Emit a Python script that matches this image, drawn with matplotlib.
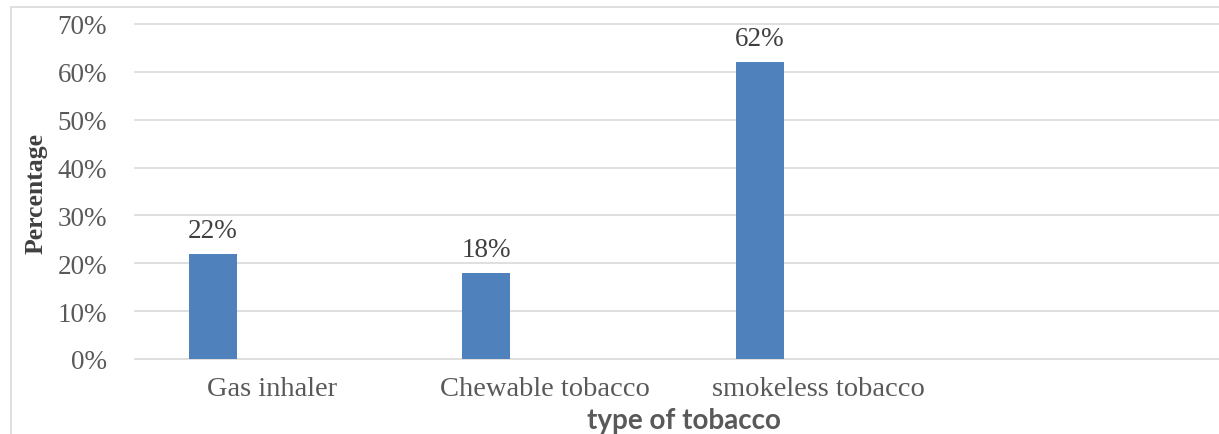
import matplotlib.pyplot as plt
from matplotlib.patches import Rectangle
from matplotlib.ticker import PercentFormatter

categories = ["Gas inhaler", "Chewable tobacco", "smokeless tobacco", ""]
values = [22, 18, 62]
y_ticks = [0, 10, 20, 30, 40, 50, 60, 70]

bar_color = "#4F81BD"
grid_color = "#D9D9D9"
text_color = "#595959"
dark_text = "#404040"

fig = plt.figure(figsize=(12.19, 4.35), dpi=100)
ax = fig.add_axes([135 / 1219, 75 / 435, 1094 / 1219, 335 / 435])

# chart frame (right and bottom edges fall outside the picture)
fig.patches.append(Rectangle((11 / 1219, -0.1), 1.2, 1 - 8 / 435 + 0.1,
                             transform=fig.transFigure, fill=False,
                             edgecolor=grid_color, linewidth=1.2))

x = list(range(len(values)))
offset = -0.216
bars = ax.bar([i + offset for i in x], values, width=0.1755, color=bar_color, zorder=3)

for rect, v in zip(bars, values):
    ax.annotate(f"{v}%", (rect.get_x() + rect.get_width() / 2, v),
                xytext=(0, 8), textcoords="offset points", ha="center", va="bottom",
                fontsize=19.5, family="Liberation Serif", color=dark_text)

ax.set_xlim(-0.5, len(categories) - 0.5)
ax.set_ylim(0, 70)
ax.set_yticks(y_ticks)
ax.yaxis.set_major_formatter(PercentFormatter(decimals=0))
ax.set_xticks(range(len(categories)))
ax.set_xticklabels(categories)

ax.grid(axis="y", color=grid_color, linewidth=1.2, zorder=0)
for gl in ax.get_ygridlines():
    gl.set_clip_on(False)
ax.set_axisbelow(True)
for s in ax.spines.values():
    s.set_visible(False)
ax.tick_params(axis="both", length=0)
ax.tick_params(axis="y", pad=20, labelsize=19.5, labelcolor=text_color)
ax.tick_params(axis="x", pad=12, labelsize=20.5, labelcolor=text_color)
for lab in ax.get_xticklabels() + ax.get_yticklabels():
    lab.set_family("Liberation Serif")

fig.text(684 / 1219, 1 - 421 / 435, "type of tobacco", ha="center", va="center",
         fontsize=20, fontweight="bold", family="Lato", color=text_color)
fig.text(36 / 1219, 1 - 194 / 435, "Percentage", ha="center", va="center", rotation=90,
         fontsize=18.5, fontweight="bold", family="Liberation Serif", color=dark_text)

fig.savefig("out.png", dpi=100)
